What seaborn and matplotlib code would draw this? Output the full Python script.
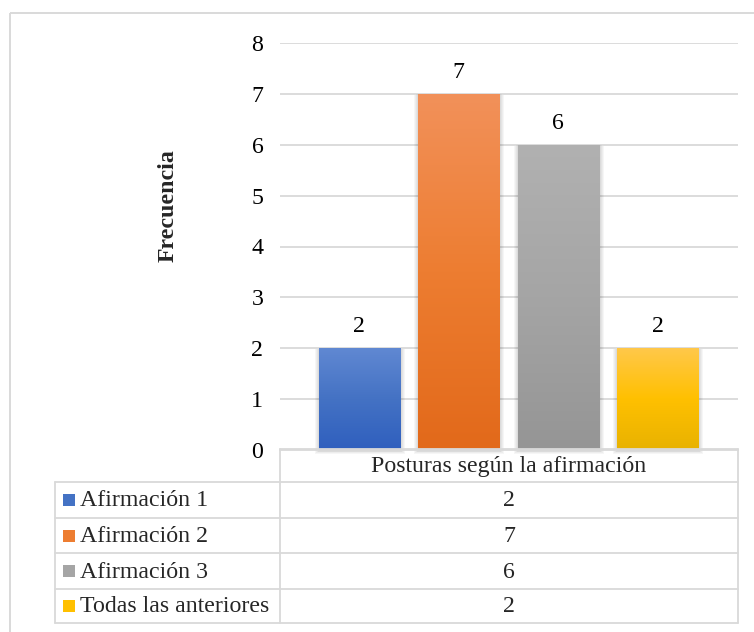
import numpy as np
import pandas as pd
import matplotlib
matplotlib.use("Agg")
import matplotlib.pyplot as plt
import seaborn as sns
from matplotlib.patches import Rectangle
from matplotlib.lines import Line2D
from matplotlib.colors import LinearSegmentedColormap

# ---- data ----
series = ["Afirmación 1", "Afirmación 2", "Afirmación 3", "Todas las anteriores"]
values = [2, 7, 6, 2]
category = "Posturas según la afirmación"
y_ticks = [0, 1, 2, 3, 4, 5, 6, 7, 8]
y_label = "Frecuencia"

# gradient stops per series: top, middle, bottom
base_colors = ["#4472C4", "#ED7D31", "#A5A5A5", "#FFC000"]
top_colors = ["#6088D2", "#F2915A", "#B1B1B1", "#FFC84A"]
bottom_colors = ["#2F5FBE", "#E2691A", "#959595", "#E8B200"]

sns.set_theme(style="white")
plt.rcParams["font.family"] = ["Liberation Serif", "DejaVu Serif"]
FS = 17.2
GRID = "#D9D9D9"

W, H = 754, 632
fig = plt.figure(figsize=(W / 100, H / 100), dpi=100)


def fx(px):
    return px / W


def fy(py):
    return 1 - py / H


# ---- bar chart ----
ax = fig.add_axes([fx(280), fy(450), fx(738) - fx(280), fy(43) - fy(450)])
df = pd.DataFrame({"serie": series, "valor": values})
sns.barplot(data=df, x="serie", y="valor", hue="serie", palette=base_colors,
            width=0.816, dodge=False, legend=False, ax=ax)

ax.set_xlim(-0.80, 3.81)
ax.set_ylim(0, 8)
ax.set_yticks(y_ticks)
ax.set_yticklabels([str(t) for t in y_ticks], fontsize=FS, color="black")
ax.tick_params(axis="y", length=0, pad=12)
ax.set_xticks([])
ax.set_xlabel("")
ax.set_ylabel("")
ax.yaxis.grid(True, color=GRID, lw=1.3)
ax.set_axisbelow(True)
for side in ["left", "right", "top"]:
    ax.spines[side].set_visible(False)
ax.spines["bottom"].set_color(GRID)
ax.spines["bottom"].set_linewidth(1.3)

# data-per-pixel factors for the shadows
dx = (3.81 + 0.80) / (738 - 280)
dy = 8 / (450 - 43)

bars = [p for p in ax.patches if isinstance(p, Rectangle)]
bars = sorted(bars, key=lambda p: p.get_x())
for i, bar in enumerate(bars):
    x0, w, h = bar.get_x(), bar.get_width(), bar.get_height()
    # soft outer shadow
    for k in range(1, 6):
        ax.add_patch(Rectangle((x0 - k * dx + dx, -k * dy * 0.8), w + 2 * k * dx - dx,
                               h + k * dy * 0.6, facecolor="black", edgecolor="none",
                               alpha=0.035, zorder=1.5, clip_on=False))
    # vertical gradient fill
    cmap = LinearSegmentedColormap.from_list(
        f"g{i}", [bottom_colors[i], base_colors[i], top_colors[i]])
    grad = np.linspace(0, 1, 256).reshape(-1, 1)
    im = ax.imshow(grad, cmap=cmap, origin="lower", aspect="auto",
                   extent=(x0, x0 + w, 0, h), zorder=2.5)
    im.set_clip_path(bar)
    bar.set_facecolor("none")
    bar.set_edgecolor("none")
    bar.set_zorder(2.6)

ax.set_xlim(-0.80, 3.81)
ax.set_ylim(0, 8)

for cont in ax.containers:
    ax.bar_label(cont, labels=[f"{v:g}" for v in cont.datavalues],
                 padding=8, fontsize=FS, color="black")

fig.text(fx(168), fy(206), y_label, rotation=90, ha="center", va="center",
         fontsize=FS, fontweight="bold")

# ---- data table ----
tb = fig.add_axes([0, 0, 1, 1], zorder=5)
tb.set_xlim(0, W)
tb.set_ylim(H, 0)
tb.axis("off")
tb.patch.set_alpha(0)

# chart frame
tb.add_patch(Rectangle((10, 13), W, H, facecolor="none", edgecolor=GRID, lw=1.4))

row_edges = [449, 482, 518, 553, 589, 623]
x_left, x_mid, x_right = 55, 280, 738
lw = 1.3

def hline(x1, x2, y):
    tb.add_line(Line2D([x1, x2], [y, y], color=GRID, lw=lw))

def vline(x, y1, y2):
    tb.add_line(Line2D([x, x], [y1, y2], color=GRID, lw=lw))

hline(x_mid, x_right, row_edges[0])
for y in row_edges[1:]:
    hline(x_left, x_right, y)
vline(x_mid, row_edges[0], row_edges[-1])
vline(x_right, row_edges[0], row_edges[-1])
vline(x_left, row_edges[1], row_edges[-1])

x_center = (x_mid + x_right) / 2
tb.text(x_center, (row_edges[0] + row_edges[1]) / 2 + 1, category,
        ha="center", va="center", fontsize=FS)

for i, (name, val) in enumerate(zip(series, values)):
    yc = (row_edges[i + 1] + row_edges[i + 2]) / 2
    tb.add_patch(Rectangle((63, yc - 6), 12, 12, facecolor=base_colors[i],
                           edgecolor="none"))
    tb.text(80, yc + 1, name, ha="left", va="center", fontsize=FS)
    tb.text(x_center, yc + 1, f"{val:g}", ha="center", va="center", fontsize=FS)

fig.savefig("out.png", dpi=100, facecolor="white")
